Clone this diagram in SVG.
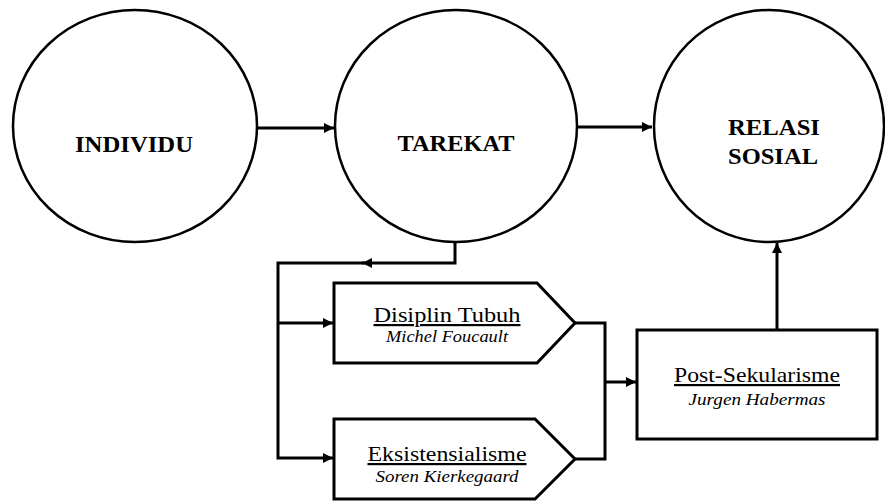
<svg xmlns="http://www.w3.org/2000/svg" width="885" height="504" viewBox="0 0 885 504">
<defs>
<marker id="ah" viewBox="0 0 10 10" refX="10" refY="5" markerWidth="11" markerHeight="10" markerUnits="userSpaceOnUse" orient="auto">
<path d="M0,0 L10,5 L0,10 Z" fill="#000"/>
</marker>
<style>
.node{fill:#fff;stroke:#000;stroke-width:2.5}
.box{fill:#fff;stroke:#000;stroke-width:3}
.conn{fill:none;stroke:#000;stroke-width:3}
.big{font-family:"Liberation Serif","Times New Roman",serif;font-weight:bold;font-size:23px;fill:#000;text-anchor:middle}
.title{font-family:"Liberation Serif","Times New Roman",serif;font-size:22px;fill:#000;text-anchor:middle;text-decoration:underline}
.auth{font-family:"Liberation Serif","Times New Roman",serif;font-style:italic;font-size:17px;fill:#000;text-anchor:middle}
</style>
</defs>
<rect width="885" height="504" fill="#fff"/>
<g id="connectors">
<path class="conn" d="M257,128 H334" marker-end="url(#ah)"/>
<path class="conn" d="M578,127 H652" marker-end="url(#ah)"/>
<path class="conn" d="M455,242 V263 H362" marker-end="url(#ah)"/>
<path class="conn" d="M364,263 H278 V458 H333" marker-end="url(#ah)"/>
<path class="conn" d="M278,323 H333" marker-end="url(#ah)"/>
<path class="conn" d="M575,323 H605 V459 H575"/>
<path class="conn" d="M605,382 H636" marker-end="url(#ah)"/>
<path class="conn" d="M777,330 V243" marker-end="url(#ah)"/>
</g>
<g id="individu">
<ellipse class="node" cx="135" cy="126" rx="122" ry="116"/>
<text class="big" x="134" y="152" textLength="118" lengthAdjust="spacingAndGlyphs">INDIVIDU</text>
</g>
<g id="tarekat">
<ellipse class="node" cx="456" cy="126" rx="121" ry="116"/>
<text class="big" x="456" y="151" textLength="117" lengthAdjust="spacingAndGlyphs">TAREKAT</text>
</g>
<g id="relasi-sosial">
<ellipse class="node" cx="769" cy="126" rx="115" ry="116"/>
<text class="big" x="774" y="135" textLength="92" lengthAdjust="spacingAndGlyphs">RELASI</text>
<text class="big" x="773" y="164" textLength="90" lengthAdjust="spacingAndGlyphs">SOSIAL</text>
</g>
<g id="disiplin-tubuh">
<path class="box" d="M334,283 H537 L575,323 L537,363 H334 Z"/>
<text class="title" x="447" y="322" textLength="147" lengthAdjust="spacingAndGlyphs">Disiplin  Tubuh</text>
<text class="auth" x="447" y="342" textLength="122" lengthAdjust="spacingAndGlyphs">Michel Foucault</text>
</g>
<g id="eksistensialisme">
<path class="box" d="M334,419 H535 L575,459 L535,499 H334 Z"/>
<text class="title" x="447" y="461" textLength="159" lengthAdjust="spacingAndGlyphs">Eksistensialisme</text>
<text class="auth" x="447" y="482" textLength="143" lengthAdjust="spacingAndGlyphs">Soren Kierkegaard</text>
</g>
<g id="post-sekularisme">
<rect class="box" x="637" y="330" width="240" height="109"/>
<text class="title" x="757" y="382" textLength="166" lengthAdjust="spacingAndGlyphs">Post-Sekularisme</text>
<text class="auth" x="757" y="405" textLength="137" lengthAdjust="spacingAndGlyphs">Jurgen Habermas</text>
</g>
</svg>
